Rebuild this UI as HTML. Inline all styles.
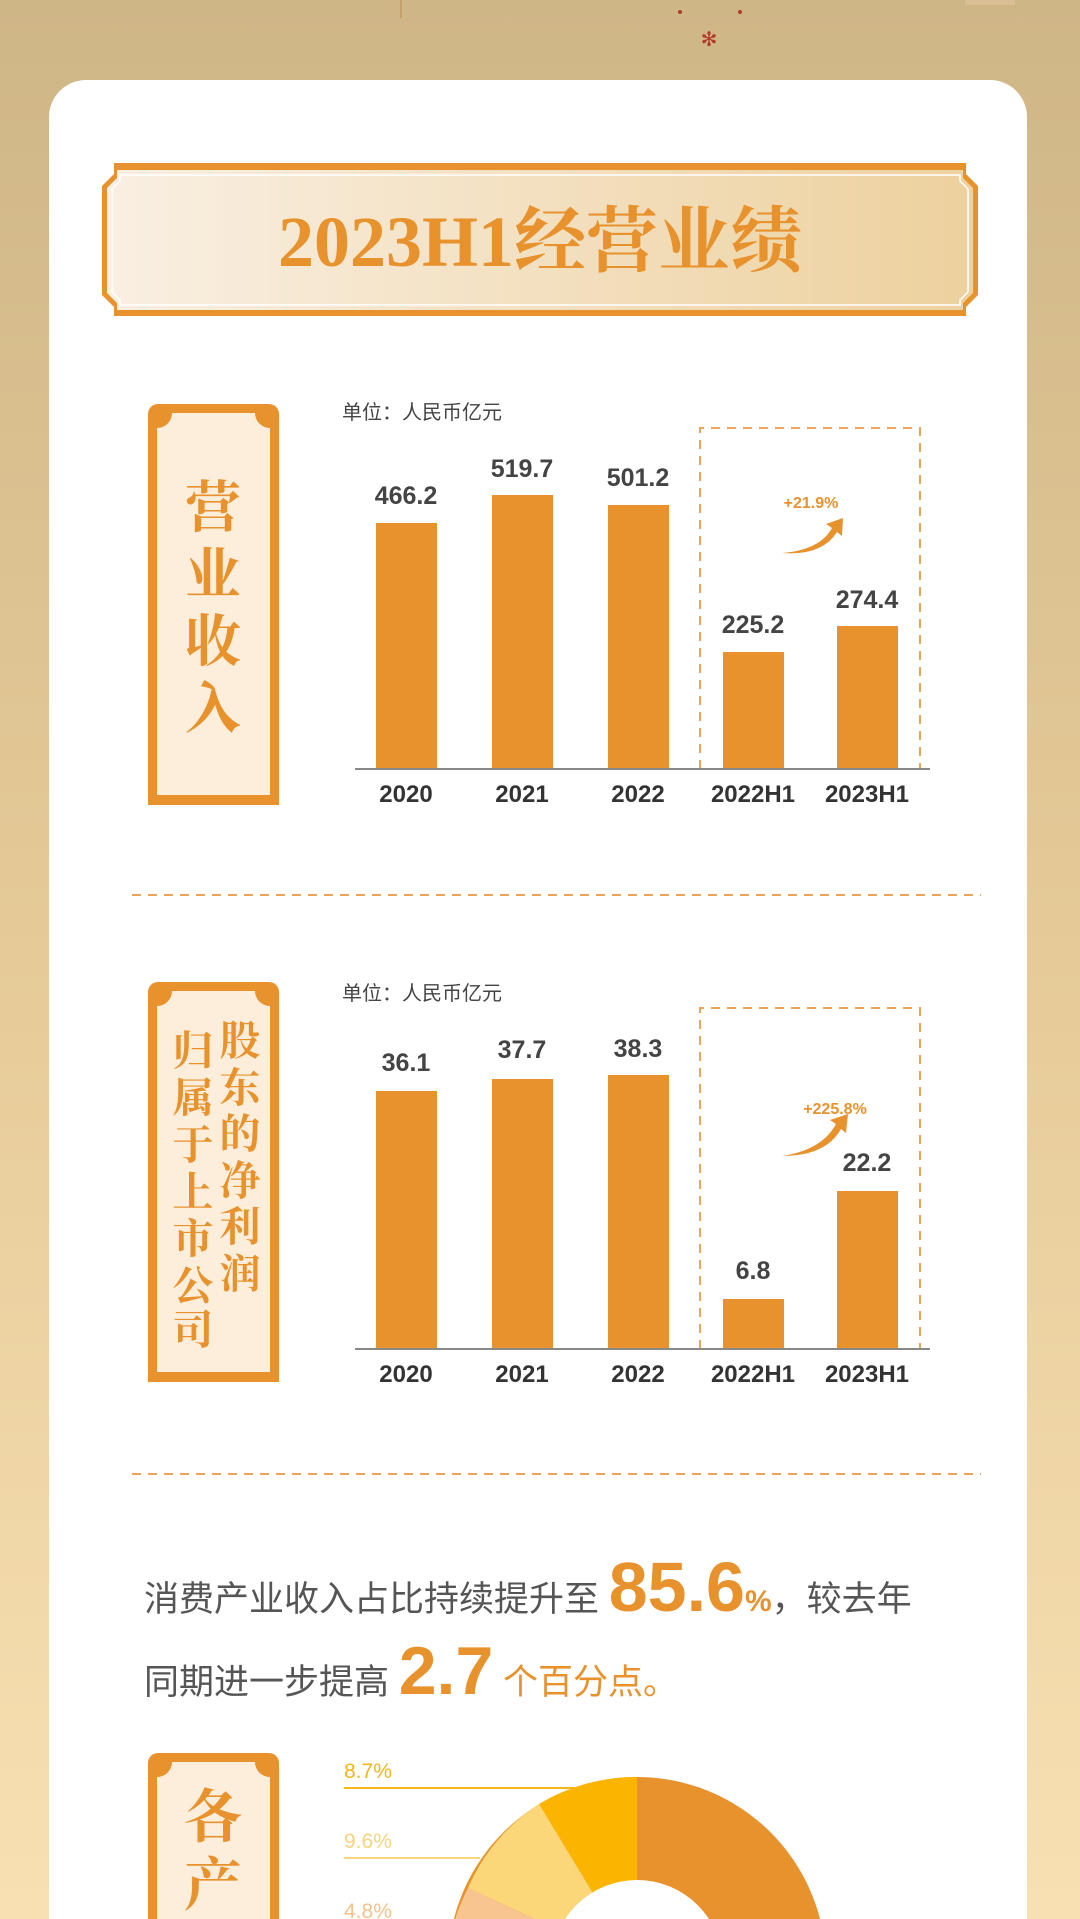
<!DOCTYPE html>
<html><head><meta charset="utf-8"><style>
html,body{margin:0;padding:0;width:1080px;height:1919px;overflow:hidden;}
svg{display:block}
.ser{font-family:"Liberation Serif","Noto Serif CJK SC",serif;}
.san{font-family:"Liberation Sans","Noto Sans CJK SC",sans-serif;}
</style></head><body>
<svg width="1080" height="1919" viewBox="0 0 1080 1919" xmlns="http://www.w3.org/2000/svg">
<defs>
<linearGradient id="bg" x1="0" y1="0" x2="0" y2="1">
<stop offset="0" stop-color="#cfb687"/><stop offset="0.5" stop-color="#e6cb98"/><stop offset="1" stop-color="#f8e0b3"/></linearGradient>
<linearGradient id="ban" x1="0" y1="0" x2="1" y2="0">
<stop offset="0" stop-color="#f9efe2"/><stop offset="1" stop-color="#edd19e"/></linearGradient>
<g id="lbox">
<rect x="0" y="0" width="131" height="1000" rx="10" fill="#e8922e"/>
<path d="M9 24 A15 15 0 0 0 24 9 L107 9 A15 15 0 0 0 122 24 L122 1000 L9 1000 Z" fill="#fdeedb"/>
</g>
</defs>
<rect width="1080" height="1919" fill="url(#bg)"/>
<line x1="401" y1="0" x2="401" y2="18" stroke="#c9a06a" stroke-width="2"/>
<text x="709" y="46" font-size="20" fill="#b03a2e" text-anchor="middle" class="san">✻</text>
<circle cx="680" cy="12" r="2" fill="#b03a2e"/><circle cx="740" cy="12" r="2" fill="#b03a2e"/>
<rect x="965" y="0" width="50" height="5" fill="#d9bf93"/>
<rect x="49" y="80" width="978" height="1800" rx="37" fill="#fff"/>
<rect x="49" y="1800" width="978" height="119" fill="#fff"/>
<path d="M114 163 L966 163 L966 174 L978 186 L978 295 L966 307 L966 316 L114 316 L114 307 L102 295 L102 186 L114 174 Z" fill="#e8922e"/>
<path d="M117 170 L963 170 L963 178 L973 188 L973 293 L963 303 L963 310 L117 310 L117 303 L107 293 L107 188 L117 178 Z" fill="url(#ban)"/>
<path d="M120 175 L960 175 L960 181 L968 189 L968 292 L960 300 L960 305 L120 305 L120 300 L112 292 L112 189 L120 181 Z" fill="none" stroke="#fff" stroke-width="1.5"/>
<text x="540" y="266" font-size="72" font-weight="bold" fill="#e8922e" text-anchor="middle" class="ser">2023H1经营业绩</text>

<svg x="148" y="404" width="131" height="401"><use href="#lbox"/><rect x="0" y="391" width="131" height="10" fill="#e8922e"/></svg>
<rect x="148" y="795" width="131" height="10" rx="5" fill="#e8922e"/>
<g class="ser" font-size="56" font-weight="bold" fill="#e8922e" text-anchor="middle">
<text x="213" y="527">营</text><text x="213" y="594">业</text><text x="213" y="661">收</text><text x="213" y="728">入</text></g>
<text x="342" y="419" font-size="20" fill="#444" class="san">单位：人民币亿元</text>
<path d="M700 769 L700 428 L920 428 L920 769" fill="none" stroke="#eaa558" stroke-width="2" stroke-dasharray="9 7"/>
<g fill="#e8922e">
<rect x="376" y="523" width="61" height="246"/><rect x="492" y="495" width="61" height="274"/><rect x="608" y="505" width="61" height="264"/>
<rect x="723" y="652" width="61" height="117"/><rect x="837" y="626" width="61" height="143"/></g>
<line x1="355" y1="769" x2="930" y2="769" stroke="#888" stroke-width="2"/>
<g class="san" font-size="25" font-weight="bold" fill="#444" text-anchor="middle">
<text x="406" y="504">466.2</text><text x="522" y="477">519.7</text><text x="638" y="486">501.2</text><text x="753" y="633">225.2</text><text x="867" y="608">274.4</text></g>
<g class="san" font-size="24" font-weight="bold" fill="#333" text-anchor="middle">
<text x="406" y="802">2020</text><text x="522" y="802">2021</text><text x="638" y="802">2022</text><text x="753" y="802">2022H1</text><text x="867" y="802">2023H1</text></g>
<text x="811" y="508" class="san" font-size="16" font-weight="bold" fill="#e8922e" text-anchor="middle">+21.9%</text>
<path d="M782 553 Q820 550 832 528 L826 524 L843 518 L842 536 L837 532 Q822 556 782 553 Z" fill="#e8922e"/>
<line x1="132" y1="895" x2="981" y2="895" stroke="#eaa558" stroke-width="2" stroke-dasharray="9 7"/>

<svg x="148" y="982" width="131" height="400"><use href="#lbox"/></svg>
<rect x="148" y="1372" width="131" height="10" rx="5" fill="#e8922e"/>
<g class="ser" font-size="41" font-weight="bold" fill="#e8922e" text-anchor="middle">
<text x="240" y="1055">股</text><text x="240" y="1102">东</text><text x="240" y="1148">的</text><text x="240" y="1195">净</text><text x="240" y="1241">利</text><text x="240" y="1288">润</text>
<text x="193" y="1065">归</text><text x="193" y="1112">属</text><text x="193" y="1159">于</text><text x="193" y="1206">上</text><text x="193" y="1253">市</text><text x="193" y="1300">公</text><text x="193" y="1344">司</text></g>
<text x="342" y="1000" font-size="20" fill="#444" class="san">单位：人民币亿元</text>
<path d="M700 1349 L700 1008 L920 1008 L920 1349" fill="none" stroke="#eaa558" stroke-width="2" stroke-dasharray="9 7"/>
<g fill="#e8922e">
<rect x="376" y="1091" width="61" height="258"/><rect x="492" y="1079" width="61" height="270"/><rect x="608" y="1075" width="61" height="274"/>
<rect x="723" y="1299" width="61" height="50"/><rect x="837" y="1191" width="61" height="158"/></g>
<line x1="355" y1="1349" x2="930" y2="1349" stroke="#888" stroke-width="2"/>
<g class="san" font-size="25" font-weight="bold" fill="#444" text-anchor="middle">
<text x="406" y="1071">36.1</text><text x="522" y="1058">37.7</text><text x="638" y="1057">38.3</text><text x="753" y="1279">6.8</text><text x="867" y="1171">22.2</text></g>
<g class="san" font-size="24" font-weight="bold" fill="#333" text-anchor="middle">
<text x="406" y="1382">2020</text><text x="522" y="1382">2021</text><text x="638" y="1382">2022</text><text x="753" y="1382">2022H1</text><text x="867" y="1382">2023H1</text></g>
<text x="835" y="1114" class="san" font-size="16" font-weight="bold" fill="#e8922e" text-anchor="middle">+225.8%</text>
<path d="M782 1156 Q822 1150 836 1124 L830 1120 L848 1114 L846 1133 L841 1129 Q826 1156 782 1156 Z" fill="#e8922e"/>
<line x1="132" y1="1474" x2="981" y2="1474" stroke="#eaa558" stroke-width="2" stroke-dasharray="9 7"/>

<text x="144" y="1611" class="san" font-size="35" fill="#555">消费产业收入占比持续提升至 <tspan font-size="70" font-weight="bold" fill="#e8922e">85.6</tspan><tspan font-size="30" font-weight="bold" fill="#e8922e">%</tspan>，较去年</text>
<text x="144" y="1694" class="san" font-size="35" fill="#555">同期进一步提高 <tspan font-size="68" font-weight="bold" fill="#e8922e">2.7</tspan> <tspan fill="#e8922e">个百分点。</tspan></text>

<svg x="148" y="1753" width="131" height="200"><use href="#lbox"/></svg>
<g class="ser" font-size="58" font-weight="bold" fill="#e8922e" text-anchor="middle">
<text x="213" y="1837">各</text><text x="213" y="1905">产</text></g>
<g>
<path d="M637 1777 A189 189 0 1 1 636.9 1777 Z" fill="#e8922e"/>
<path d="M637 1966 L637 1777 A189 189 0 0 0 539 1804 Z" fill="#fbb400"/>
<path d="M637 1966 L539 1804 A189 189 0 0 0 468 1888 Z" fill="#fbd77a"/>
<path d="M637 1966 L468 1888 A189 189 0 0 0 449 1945 Z" fill="#f8c48f"/>
<circle cx="637" cy="1966" r="86" fill="#fff"/>
</g>
<g class="san" font-size="21">
<text x="344" y="1778" fill="#f3b51a">8.7%</text><text x="344" y="1848" fill="#f7d47e">9.6%</text><text x="344" y="1918" fill="#f5c28f">4.8%</text></g>
<line x1="344" y1="1788" x2="575" y2="1788" stroke="#f3b51a" stroke-width="2"/>
<line x1="344" y1="1858" x2="480" y2="1858" stroke="#f7d47e" stroke-width="2"/>
</svg>
</body></html>
